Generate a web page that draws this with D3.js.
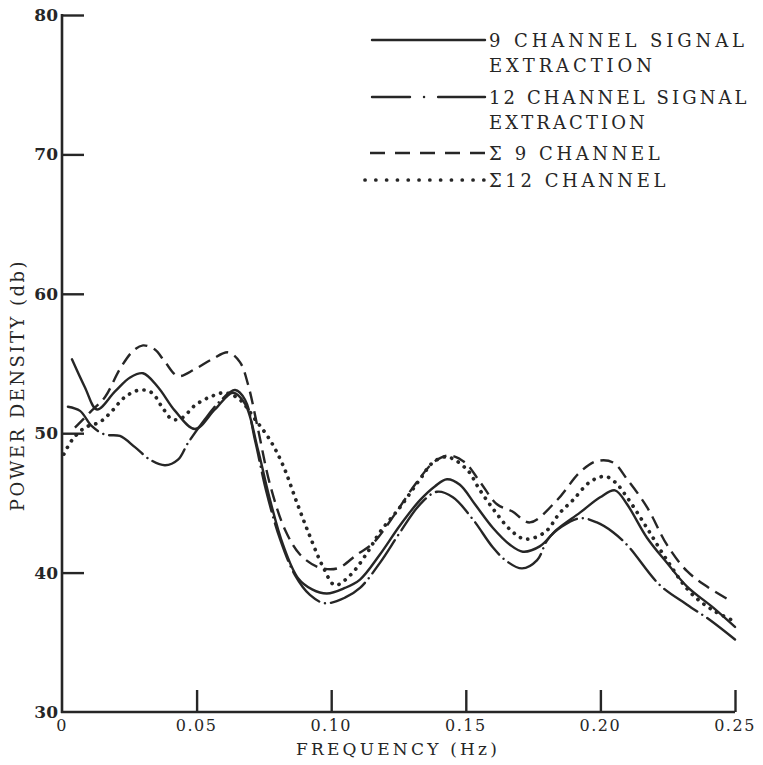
<!DOCTYPE html>
<html>
<head>
<meta charset="utf-8">
<script src="https://cdn.jsdelivr.net/npm/d3@7"></script>
<style>
  html, body { margin: 0; padding: 0; background: #fff; }
  svg text { font-family: "DejaVu Serif", "Liberation Serif", serif; fill: #262626; }
</style>
</head>
<body>
<svg id="chart" width="763" height="765"></svg>
<script>
// Frequency (Hz) and power density (db) for each spectrum estimate
const sig9Freq = [0.0037,0.0085,0.0130,0.0197,0.0253,0.0301,0.0357,0.0420,0.0494,0.0568,0.0635,0.0680,0.0728,0.0773,0.0821,0.0877,0.0929,0.0984,0.1051,0.1107,0.1181,0.1256,0.1330,0.1386,0.1430,0.1478,0.1534,0.1601,0.1664,0.1712,0.1776,0.1839,0.1924,0.1999,0.2054,0.2099,0.2173,0.2247,0.2322,0.2418,0.2500];
const sig9Db   = [55.3,53.3,51.7,53.0,54.0,54.3,53.3,51.6,50.3,51.7,52.9,52.1,48.8,45.2,42.0,39.6,38.8,38.5,38.9,39.5,41.3,43.4,45.2,46.2,46.7,46.3,44.9,43.2,42.0,41.5,41.9,43.1,44.3,45.4,45.9,44.9,42.5,40.7,39.0,37.5,36.1];

const sig12Freq = [0.0022,0.0067,0.0111,0.0160,0.0215,0.0271,0.0327,0.0383,0.0431,0.0468,0.0531,0.0587,0.0643,0.0680,0.0717,0.0758,0.0810,0.0866,0.0921,0.0977,0.1051,0.1107,0.1181,0.1256,0.1330,0.1393,0.1452,0.1527,0.1601,0.1653,0.1709,0.1765,0.1805,0.1857,0.1924,0.1987,0.2047,0.2103,0.2221,0.2322,0.2407,0.2500];
const sig12Db   = [51.9,51.6,50.5,49.9,49.8,49.0,48.1,47.7,48.1,49.3,51.0,52.3,53.1,52.4,49.5,45.9,42.4,39.8,38.4,37.8,38.2,38.9,40.7,42.9,44.9,45.8,45.4,43.8,41.8,40.8,40.3,40.9,42.4,43.3,43.9,43.6,42.9,41.9,39.1,37.7,36.6,35.2];

const sum9Freq = [0.0048,0.0104,0.0160,0.0215,0.0264,0.0301,0.0345,0.0383,0.0431,0.0494,0.0557,0.0617,0.0661,0.0691,0.0728,0.0773,0.0828,0.0884,0.0951,0.1022,0.1096,0.1155,0.1237,0.1311,0.1386,0.1441,0.1497,0.1553,0.1616,0.1672,0.1738,0.1839,0.1924,0.1987,0.2047,0.2099,0.2173,0.2247,0.2322,0.2396,0.2481];
const sum9Db   = [50.4,51.5,52.6,54.6,55.9,56.3,56.0,55.1,54.1,54.6,55.3,55.8,55.1,53.5,50.3,46.3,43.1,41.3,40.4,40.3,41.3,42.1,44.2,46.3,48.0,48.4,47.9,46.5,44.9,44.4,43.6,45.2,47.2,48.0,47.9,46.7,44.7,42.0,40.1,39.0,38.0];

const sum12Freq = [0.0007,0.0037,0.0085,0.0141,0.0186,0.0234,0.0290,0.0334,0.0371,0.0409,0.0446,0.0494,0.0550,0.0606,0.0661,0.0717,0.0773,0.0821,0.0873,0.0921,0.0970,0.1014,0.1070,0.1133,0.1181,0.1256,0.1330,0.1378,0.1430,0.1504,0.1553,0.1608,0.1664,0.1720,0.1794,0.1850,0.1898,0.1961,0.2017,0.2054,0.2099,0.2173,0.2247,0.2333,0.2418,0.2500];
const sum12Db   = [48.5,49.5,50.4,50.8,51.6,52.6,53.1,52.9,51.9,51.0,51.1,52.0,52.6,52.9,52.4,51.0,49.5,47.7,45.0,42.6,40.4,39.1,39.8,41.4,42.9,44.7,46.7,47.9,48.3,47.4,45.9,44.4,43.1,42.4,42.9,44.3,45.2,46.5,46.9,46.5,45.4,43.2,40.9,38.6,37.3,36.5];

// Axis ticks
const xTicks = [0, 0.05, 0.10, 0.15, 0.20, 0.25];
const xTickLabels = ["0", "0.05", "0.10", "0.15", "0.20", "0.25"];
const yTicks = [30, 40, 50, 60, 70, 80];

// Legend entries
const legendLabels = [
  ["9 CHANNEL SIGNAL", "EXTRACTION"],
  ["12 CHANNEL SIGNAL", "EXTRACTION"],
  ["\u03A3 9 CHANNEL"],
  ["\u03A312 CHANNEL"]
];

const svg = d3.select("#chart");
const ink = "#262626";
const plotLeft = 62, plotRight = 735, plotTop = 15, plotBottom = 712;

const x = d3.scaleLinear().domain([0, 0.25]).range([plotLeft, plotRight]);
const y = d3.scaleLinear().domain([30, 80]).range([plotBottom, plotTop]);

// Line styles for the four estimates
const styles = [
  { dash: null, width: 2.4, cap: "round" },
  { dash: "40,6,0.1,6", width: 2.4, cap: "round" },
  { dash: "13,7", width: 2.4, cap: "butt" },
  { dash: "0.1,7.5", width: 3.7, cap: "round" }
];
const legendDash = [null, "38,14,0.1,14,60", "15,10", "0.1,10.7"];

const series = [
  { f: sig9Freq, v: sig9Db },
  { f: sig12Freq, v: sig12Db },
  { f: sum9Freq, v: sum9Db },
  { f: sum12Freq, v: sum12Db }
];

// Axes: y axis with inward ticks, x axis with upward ticks
const yAxis = d3.axisRight(y).tickValues(yTicks).tickSize(22).tickFormat("");
const gy = svg.append("g").attr("transform", `translate(${plotLeft},0)`).call(yAxis);
const xAxis = d3.axisTop(x).tickValues(xTicks.slice(1)).tickSize(22).tickFormat("");
const gx = svg.append("g").attr("transform", `translate(0,${plotBottom})`).call(xAxis);
[gy, gx].forEach(g => {
  g.select(".domain").remove();
  g.selectAll(".tick line").attr("stroke", ink).attr("stroke-width", 2.4);
});
// y tick at 30 coincides with the x axis
gy.selectAll(".tick").filter(d => d === 30).remove();

svg.append("line").attr("x1", plotLeft).attr("x2", plotLeft).attr("y1", plotTop - 1).attr("y2", plotBottom + 1)
  .attr("stroke", ink).attr("stroke-width", 2.6);
svg.append("line").attr("x1", plotLeft - 1).attr("x2", plotRight).attr("y1", plotBottom).attr("y2", plotBottom)
  .attr("stroke", ink).attr("stroke-width", 2.6);

// Tick labels
svg.append("g").selectAll("text").data(yTicks).join("text")
  .attr("x", plotLeft - 4).attr("y", d => y(d) + 6)
  .attr("text-anchor", "end").attr("font-size", 17).attr("font-weight", "bold")
  .text(d => d);

svg.append("g").selectAll("text").data(xTicks).join("text")
  .attr("x", d => x(d)).attr("y", plotBottom + 19)
  .attr("text-anchor", "middle").attr("font-size", 16).attr("letter-spacing", 1.5)
  .text((d, i) => xTickLabels[i]);

// Axis titles
svg.append("text").attr("x", 398).attr("y", 755)
  .attr("text-anchor", "middle").attr("font-size", 17).attr("letter-spacing", 3.2)
  .text("FREQUENCY (Hz)");
svg.append("text").attr("transform", "translate(24,385) rotate(-90)")
  .attr("text-anchor", "middle").attr("font-size", 18).attr("letter-spacing", 2.5)
  .text("POWER DENSITY (db)");

// Curves
const line = d3.line().x(d => x(d[0])).y(d => y(d[1])).curve(d3.curveCatmullRom.alpha(0.5));
series.forEach((s, i) => {
  const pts = s.f.map((f, k) => [f, s.v[k]]);
  svg.append("path").attr("d", line(pts))
    .attr("fill", "none").attr("stroke", ink)
    .attr("stroke-width", styles[i].width)
    .attr("stroke-linecap", styles[i].cap)
    .attr("stroke-linejoin", "round")
    .attr("stroke-dasharray", styles[i].dash);
});

// Legend
const legendRowY = [40, 97, 153, 180];
const legendX0 = [372, 372, 370, 365];
const legendX1 = 485;
const legendSpacing = [3.9, 3.1, 3.6, 3.6];
const legend = svg.append("g");
legendLabels.forEach((lines, i) => {
  legend.append("line")
    .attr("x1", legendX0[i]).attr("x2", legendX1)
    .attr("y1", legendRowY[i]).attr("y2", legendRowY[i])
    .attr("stroke", ink).attr("stroke-width", styles[i].width)
    .attr("stroke-linecap", styles[i].cap)
    .attr("stroke-dasharray", legendDash[i]);
  lines.forEach((t, j) => {
    legend.append("text")
      .attr("x", 489).attr("y", legendRowY[i] + 7 + j * 25)
      .attr("font-size", 18).attr("letter-spacing", legendSpacing[i])
      .text(t);
  });
});
</script>
</body>
</html>
